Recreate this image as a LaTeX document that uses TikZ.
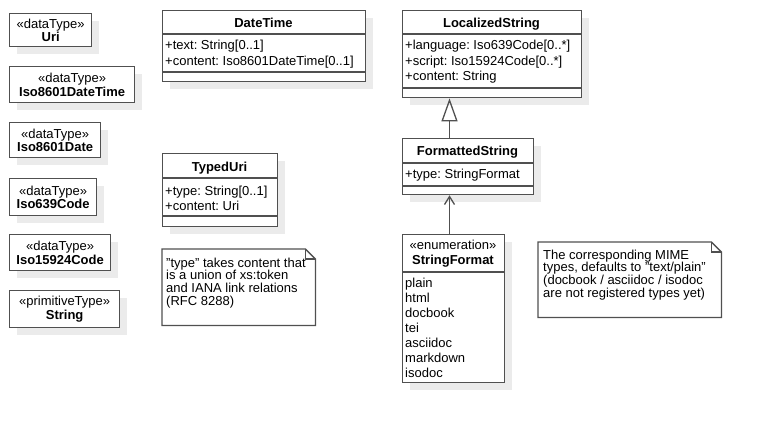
\documentclass[tikz,border=0pt]{standalone}
\usepackage{fontspec}
\setmainfont{Liberation Sans}
\usepackage{tikz}
\usetikzlibrary{arrows.meta,shadows}
\frenchspacing
\definecolor{umlline}{HTML}{505050}
\definecolor{umlshadow}{HTML}{EBEBEB}
\tikzstyle{umlbox} = [draw=umlline, fill=white, line width=1.3pt, rectangle, anchor=north west, inner sep=0pt, drop shadow={shadow xshift=7pt, shadow yshift=-7pt, fill=umlshadow, opacity=1}]
\tikzstyle{typebox} = [umlbox, align=center, font=\fontsize{13}{13.5}\selectfont]
\tikzstyle{classname} = [anchor=base, inner sep=0pt, align=center, font=\fontsize{13}{15}\selectfont]
\tikzstyle{members} = [anchor=base west, inner sep=0pt, align=left, font=\fontsize{13}{15.5}\selectfont]
\tikzstyle{notebox} = [anchor=north west, inner sep=0pt, rectangle]
\tikzstyle{notetext} = [anchor=base west, inner sep=0pt, align=left, font=\fontsize{13}{12.8}\selectfont]
\tikzstyle{outline} = [draw=umlline, line width=1.3pt]
\tikzstyle{generalize} = [outline, -{Triangle[open, length=23pt, width=16pt]}]
\tikzstyle{navigable} = [outline, -{Straight Barb[length=8pt, width=10pt]}]

\begin{document}
\begin{tikzpicture}[x=1pt, y=-1pt]
\useasboundingbox (0,0) rectangle (762,424);

\node[typebox, minimum width=82pt, minimum height=33pt] (uri) at (9,13) {«dataType»\\\textbf{Uri}};
\node[typebox, minimum width=125pt, minimum height=36pt] (isodatetime) at (9,66) {«dataType»\\\textbf{Iso8601DateTime}};
\node[typebox, minimum width=91pt, minimum height=35pt] (isodate) at (9,122) {«dataType»\\\textbf{Iso8601Date}};
\node[typebox, minimum width=87pt, minimum height=37pt] (isolang) at (9,178) {«dataType»\\\textbf{Iso639Code}};
\node[typebox, minimum width=101pt, minimum height=36pt] (isoscript) at (9,234) {«dataType»\\\textbf{Iso15924Code}};
\node[typebox, minimum width=110pt, minimum height=37pt] (string) at (9,290) {«primitiveType»\\\textbf{String}};

\node[umlbox, minimum width=203pt, minimum height=71pt] (datetime) at (162,10) {};
\draw[outline] ([yshift=-24pt]datetime.north west) -- ([yshift=-24pt]datetime.north east);
\draw[outline] ([yshift=-62pt]datetime.north west) -- ([yshift=-62pt]datetime.north east);
\node[classname] (datetimename) at (263.5,27.5) {\textbf{DateTime}};
\node[members] (datetimeattrs) at (165,65) {+text: String[0..1]\\+content: Iso8601DateTime[0..1]};

\node[umlbox, minimum width=115pt, minimum height=73pt] (typeduri) at (162,153) {};
\draw[outline] ([yshift=-25pt]typeduri.north west) -- ([yshift=-25pt]typeduri.north east);
\draw[outline] ([yshift=-63pt]typeduri.north west) -- ([yshift=-63pt]typeduri.north east);
\node[classname] (typeduriname) at (219.5,171) {\textbf{TypedUri}};
\node[members] (typeduriattrs) at (165,210.5) {+type: String[0..1]\\+content: Uri};

\node[notebox, minimum width=153pt, minimum height=76pt] (typenote) at (162,249) {};
\draw[outline] (typenote.north west) -- ([xshift=-10pt]typenote.north east) -- ([yshift=-10pt]typenote.north east) -- (typenote.south east) -- (typenote.south west) -- cycle;
\draw[outline] ([xshift=-10pt]typenote.north east) -- ([xshift=-10pt,yshift=-10pt]typenote.north east) -- ([yshift=-10pt]typenote.north east);
\node[notetext] (typenotetext) at (166,305.5) {"type" takes content that\\is a union of xs:token\\and IANA link relations\\(RFC 8288)};

\node[umlbox, minimum width=179pt, minimum height=87pt] (localized) at (402,10) {};
\draw[outline] ([yshift=-24pt]localized.north west) -- ([yshift=-24pt]localized.north east);
\draw[outline] ([yshift=-78pt]localized.north west) -- ([yshift=-78pt]localized.north east);
\node[classname] (localizedname) at (491.5,27.5) {\textbf{LocalizedString}};
\node[members] (localizedattrs) at (405,80.5) {+language: Iso639Code[0..*]\\+script: Iso15924Code[0..*]\\+content: String};

\node[umlbox, minimum width=131pt, minimum height=56pt] (formatted) at (402,138) {};
\draw[outline] ([yshift=-25pt]formatted.north west) -- ([yshift=-25pt]formatted.north east);
\draw[outline] ([yshift=-48pt]formatted.north west) -- ([yshift=-48pt]formatted.north east);
\node[classname] (formattedname) at (467.5,155.5) {\textbf{FormattedString}};
\node[members] (formattedattrs) at (405,178) {+type: StringFormat};

\node[umlbox, minimum width=102pt, minimum height=148pt] (stringformat) at (402,234) {};
\draw[outline] ([yshift=-38pt]stringformat.north west) -- ([yshift=-38pt]stringformat.north east);
\node[classname] (stringformatname) at (453,264.5) {«enumeration»\\\textbf{StringFormat}};
\node[members, font=\fontsize{13}{15}\selectfont] (stringformatvalues) at (405,377) {plain\\html\\docbook\\tei\\asciidoc\\markdown\\isodoc};

\node[notebox, minimum width=183pt, minimum height=75pt] (mimenote) at (538,242) {};
\draw[outline] (mimenote.north west) -- ([xshift=-10pt]mimenote.north east) -- ([yshift=-10pt]mimenote.north east) -- (mimenote.south east) -- (mimenote.south west) -- cycle;
\draw[outline] ([xshift=-10pt]mimenote.north east) -- ([xshift=-10pt,yshift=-10pt]mimenote.north east) -- ([yshift=-10pt]mimenote.north east);
\node[notetext] (mimenotetext) at (543,297.5) {The corresponding MIME\\types, defaults to "text/plain"\\(docbook / asciidoc / isodoc\\are not registered types yet)};

\coordinate (inherit) at (449.5,0);
\draw[generalize] (inherit |- formatted.north) -- (inherit |- localized.south);
\draw[navigable] (inherit |- stringformat.north) -- (inherit |- formatted.south);
\end{tikzpicture}
\end{document}
